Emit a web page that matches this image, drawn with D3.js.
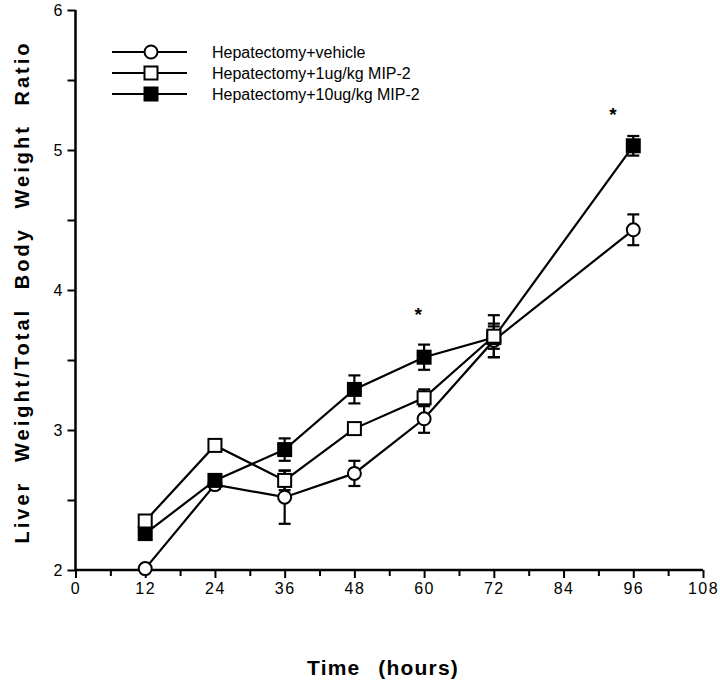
<!DOCTYPE html>
<html><head><meta charset="utf-8">
<script src="https://cdn.jsdelivr.net/npm/d3@7/dist/d3.min.js"></script>
<style>body{margin:0;background:#fff}svg{display:block}text{font-family:"Liberation Sans",Arial,Helvetica,sans-serif}</style>
</head><body>
<svg id="c" width="720" height="685"></svg>
<script>
const hours = [12, 24, 36, 48, 60, 72, 96];
const vehicle = [2.01, 2.61, 2.52, 2.69, 3.08, 3.64, 4.43];
const vehicleErr = [0.02, 0.03, 0.19, 0.09, 0.10, 0.12, 0.11];
const mip1 = [2.35, 2.89, 2.64, 3.01, 3.23, 3.67];
const mip1Err = [0.03, 0.03, 0.07, 0.03, 0.06, 0.15];
const mip10 = [2.26, 2.64, 2.86, 3.29, 3.52, 3.66, 5.03];
const mip10Err = [0.03, 0.03, 0.08, 0.10, 0.09, 0.08, 0.07];
const xTicks = [0, 12, 24, 36, 48, 60, 72, 84, 96, 108];
const yTicks = [2, 3, 4, 5, 6];
const seriesNames = ["Hepatectomy+vehicle", "Hepatectomy+1ug/kg MIP-2", "Hepatectomy+10ug/kg MIP-2"];
const stars = [{h: 59, v: 3.84}, {h: 92.5, v: 5.27}];

const svg = d3.select("#c");
const x = d3.scaleLinear().domain([0, 108]).range([75.5, 703]);
const y = d3.scaleLinear().domain([2, 6]).range([570, 10]);

// axes
const xAxis = d3.axisBottom(x).tickValues(d3.range(0, 109, 6)).tickSize(7)
  .tickFormat(d => xTicks.includes(d) ? d : "");
const gx = svg.append("g").attr("transform", `translate(0,${y(2)})`).call(xAxis);
gx.select(".domain").attr("stroke-width", 2.5).attr("d", `M${x(0)},0H${x(108)}`);
gx.selectAll(".tick line").attr("stroke-width", 2).attr("y2", d => xTicks.includes(d) ? 8 : 6);
gx.selectAll(".tick text").attr("font-size", 16).attr("letter-spacing", 1.5).attr("dy", "0.9em").attr("fill", "#000");

const yAxis = d3.axisLeft(y).tickValues(d3.range(2, 6.01, 0.5)).tickSize(8)
  .tickFormat(d => yTicks.includes(d) ? d : "");
const gy = svg.append("g").attr("transform", `translate(${x(0)},0)`).call(yAxis);
gy.select(".domain").attr("stroke-width", 2.5).attr("d", `M0,${y(6)}V${y(2)}`);
gy.selectAll(".tick line").attr("stroke-width", 2);
gy.selectAll(".tick text").attr("font-size", 16).attr("x", -13).attr("fill", "#000");

// labels, with word spacing fitted to the reference width
function fitWords(t, target) {
  const n = (t.text().match(/ /g) || []).length;
  const w = t.node().getComputedTextLength();
  t.attr("word-spacing", Math.max(0, (target - w) / n));
}
const xl = svg.append("text").attr("x", 383).attr("y", 675).attr("text-anchor", "middle")
  .attr("font-size", 21).attr("font-weight", "bold").attr("letter-spacing", 1.2)
  .text("Time (hours)");
fitWords(xl, 152);
const yl = svg.append("text").attr("transform", "translate(29,292) rotate(-90)").attr("text-anchor", "middle")
  .attr("font-size", 20).attr("font-weight", "bold").attr("letter-spacing", 3)
  .text("Liver Weight/Total Body Weight Ratio");
fitWords(yl, 503);

const series = [
  {vals: vehicle, err: vehicleErr, type: "circle"},
  {vals: mip10, err: mip10Err, type: "filled"},
  {vals: mip1, err: mip1Err, type: "square"}
];
const line = d3.line().x(d => x(d[0])).y(d => y(d[1]));
series.forEach(s => {
  const pts = s.vals.map((v, i) => [hours[i], v]);
  svg.append("path").attr("d", line(pts)).attr("fill", "none").attr("stroke", "#000").attr("stroke-width", 2.2);
});
series.forEach(s => {
  s.vals.forEach((v, i) => {
    const cx = x(hours[i]);
    const t = y(v + s.err[i]), b = y(v - s.err[i]);
    const g = svg.append("g").attr("stroke", "#000").attr("stroke-width", 2.2);
    g.append("line").attr("x1", cx).attr("x2", cx).attr("y1", t).attr("y2", b);
    g.append("line").attr("x1", cx - 6).attr("x2", cx + 6).attr("y1", t).attr("y2", t);
    g.append("line").attr("x1", cx - 6).attr("x2", cx + 6).attr("y1", b).attr("y2", b);
  });
});
function marker(g, type, cx, cy) {
  if (type === "circle") {
    g.append("circle").attr("cx", cx).attr("cy", cy).attr("r", 6.5).attr("fill", "#fff").attr("stroke", "#000").attr("stroke-width", 2);
  } else {
    g.append("rect").attr("x", cx - 6.5).attr("y", cy - 6.5).attr("width", 13).attr("height", 13)
      .attr("fill", type === "filled" ? "#000" : "#fff").attr("stroke", "#000").attr("stroke-width", 2);
  }
}
series.forEach(s => {
  s.vals.forEach((v, i) => marker(svg, s.type, x(hours[i]), y(v)));
});

// stars
stars.forEach(s => svg.append("text").attr("x", x(s.h)).attr("y", y(s.v) + 9).attr("text-anchor", "middle")
  .attr("font-size", 19).attr("font-weight", "bold").text("*"));

// legend
const legTypes = ["circle", "square", "filled"];
const legY = [52, 73, 94];
seriesNames.forEach((n, i) => {
  const g = svg.append("g");
  g.append("line").attr("x1", 112).attr("x2", 187).attr("y1", legY[i]).attr("y2", legY[i]).attr("stroke", "#000").attr("stroke-width", 2.2);
  marker(g, legTypes[i], 151, legY[i]);
  g.append("text").attr("x", 212).attr("y", legY[i] + 5.5).attr("font-size", 16).text(n);
});
</script>
</body></html>
